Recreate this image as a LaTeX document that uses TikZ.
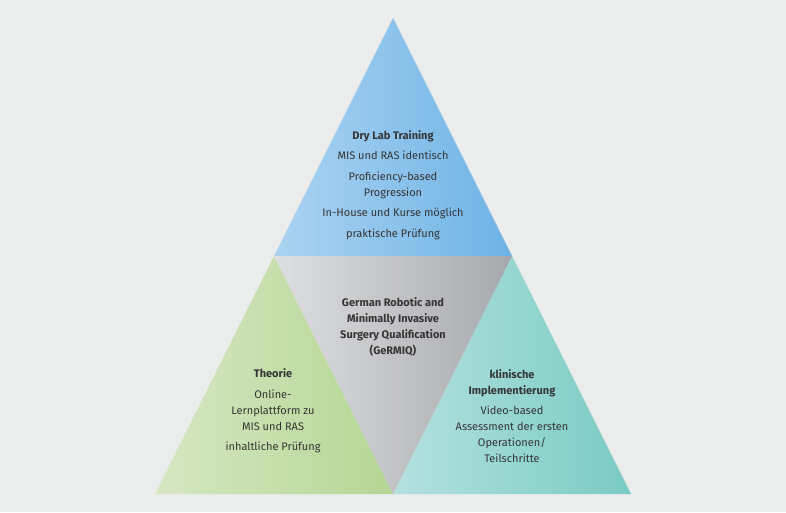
\documentclass[tikz,border=0pt]{standalone}
\usepackage{fontspec}
\setmainfont{Fira Sans}
\usepackage{tikz}
\usetikzlibrary{positioning,calc}
\usepackage{xcolor}
\definecolor{bgray}{HTML}{EBECEC}
\definecolor{txt}{HTML}{353535}
\definecolor{blueL}{HTML}{ACD3F1}
\definecolor{blueR}{HTML}{6DB3E6}
\definecolor{greenL}{HTML}{D6E7C3}
\definecolor{greenR}{HTML}{B5D694}
\definecolor{tealL}{HTML}{B4E1DF}
\definecolor{tealR}{HTML}{79CBC3}
\definecolor{grayL}{HTML}{DEDFE1}
\definecolor{grayR}{HTML}{A7A8AB}

\tikzset{
  block/.style={align=center, text=txt, inner sep=0pt,
    font=\fontsize{11}{16}\selectfont},
}

\begin{document}
\begin{tikzpicture}[x=1pt,y=1pt]
  \fill[bgray] (0,0) rectangle (786,512);
  \useasboundingbox (0,0) rectangle (786,512);
  % corner points
  \coordinate (apex) at (393,494);
  \coordinate (bl) at (155,18);
  \coordinate (br) at (631,18);
  \coordinate (ml) at (274,256);
  \coordinate (mr) at (512,256);
  \coordinate (bm) at (393,18);
  % four triangles
  \shade[left color=blueL, right color=blueR] (apex) -- (ml) -- (mr) -- cycle;
  \shade[left color=greenL, right color=greenR] (ml) -- (bl) -- (bm) -- cycle;
  \shade[left color=tealL, right color=tealR] (mr) -- (bm) -- (br) -- cycle;
  \shade[left color=grayL, right color=grayR] (ml) -- (mr) -- (bm) -- cycle;
  % texts
  \node[block] (dry) at (393,327) {\textbf{Dry Lab Training}\\[4.5pt]
    MIS und RAS identisch\\[4.5pt]
    Proficiency-based\\Progression\\[4.5pt]
    In-House und Kurse möglich\\[4.5pt]
    praktische Prüfung};
  \node[block] (germiq) at (393,185) {\textbf{German Robotic and}\\
    \textbf{Minimally Invasive}\\
    \textbf{Surgery Qualification}\\
    \textbf{(GeRMIQ)}};
  \node[block] (theorie) at (273,101) {\textbf{Theorie}\\[4.5pt]
    Online-\\Lernplattform zu\\MIS und RAS\\[4.5pt]
    inhaltliche Prüfung};
  \node[block] (klinik) at (512,96) {\textbf{klinische}\\\textbf{Implementierung}\\[4.5pt]
    Video-based\\Assessment der ersten\\Operationen/\\Teilschritte};
\end{tikzpicture}
\end{document}
